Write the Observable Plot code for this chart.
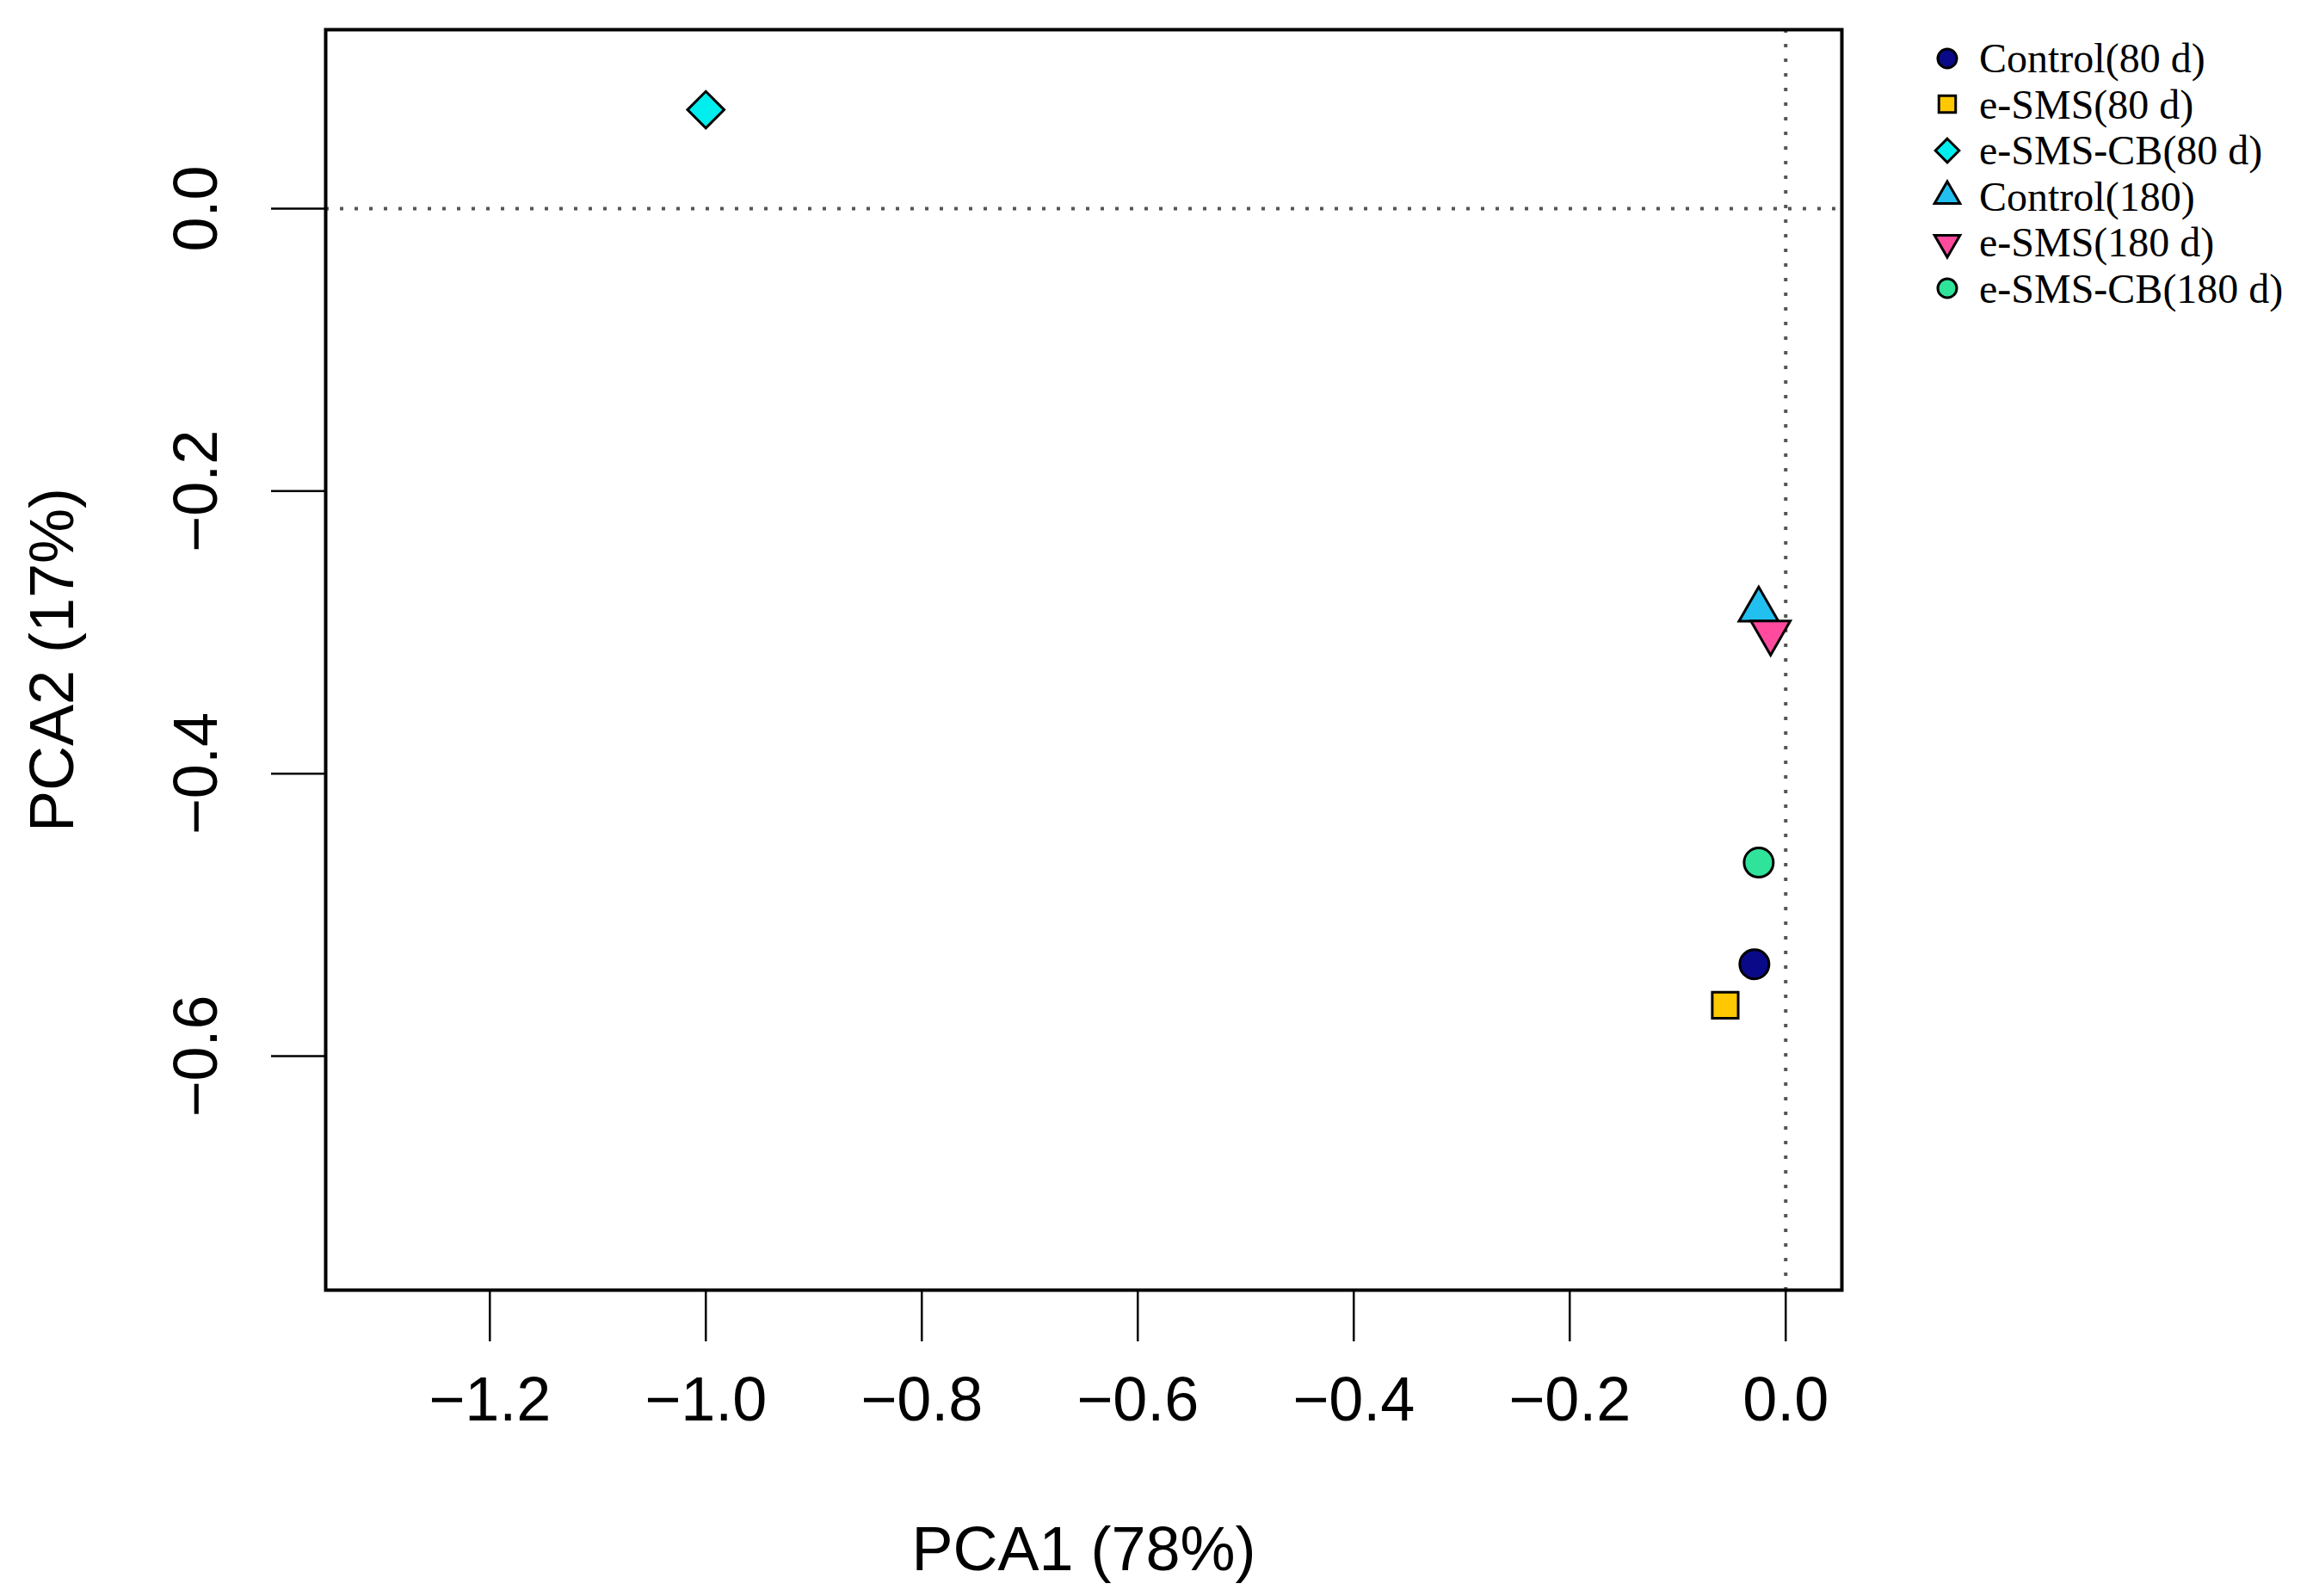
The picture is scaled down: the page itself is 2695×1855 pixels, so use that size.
<!DOCTYPE html>
<html><head><meta charset="utf-8">
<script src="https://cdn.jsdelivr.net/npm/d3@7"></script>
<script src="https://cdn.jsdelivr.net/npm/@observablehq/plot@0.6"></script>
<style>
body{margin:0;background:#fff;}
#wrap{position:relative;width:2695px;height:1855px;}
#legend{position:absolute;left:2243px;top:41px;font-family:"Liberation Serif","Times New Roman",serif;font-size:48px;color:#000;}
.row{display:flex;align-items:center;height:53.5px;}
.row svg{flex:none;margin-right:17px;}
</style></head><body><div id="wrap"><div id="chart"></div><div id="legend"></div></div>
<script>
// ---- data ----
const groups = ["Control(80 d)", "e-SMS(80 d)", "e-SMS-CB(80 d)", "Control(180)", "e-SMS(180 d)", "e-SMS-CB(180 d)"];
const pca1 = [-0.029, -0.056, -1.0, -0.025, -0.014, -0.025];
const pca2 = [-0.535, -0.564, 0.070, -0.284, -0.300, -0.463];
const colors = ["#0a0a88", "#ffc800", "#00eeee", "#22c0f0", "#ff4a9e", "#2fe39a"];
const shapes = ["circle", "square", "diamond", "triangleUp", "triangleDown", "circle"];
const xTicks = [-1.2, -1.0, -0.8, -0.6, -0.4, -0.2, 0.0];
const yTicks = [0.0, -0.2, -0.4, -0.6];

// ---- symbols (R pch 21-25 geometry) ----
const rad = (size) => Math.sqrt(size / Math.PI);
const symbolMap = {
  circle: {draw(c, s) { const r = rad(s); c.moveTo(r, 0); c.arc(0, 0, r, 0, 2 * Math.PI); c.closePath(); }},
  square: {draw(c, s) { const h = rad(s) * 0.886; c.rect(-h, -h, 2 * h, 2 * h); }},
  diamond: {draw(c, s) { const d = rad(s) * 1.2533; c.moveTo(0, -d); c.lineTo(d, 0); c.lineTo(0, d); c.lineTo(-d, 0); c.closePath(); }},
  triangleUp: {draw(c, s) { const r = rad(s); const a = 1.5551 * r, b = 0.7776 * r, w = 1.3468 * r; c.moveTo(0, -a); c.lineTo(w, b); c.lineTo(-w, b); c.closePath(); }},
  triangleDown: {draw(c, s) { const r = rad(s); const a = 1.5551 * r, b = 0.7776 * r, w = 1.3468 * r; c.moveTo(0, a); c.lineTo(w, -b); c.lineTo(-w, -b); c.closePath(); }}
};

const data = groups.map((g, i) => ({group: g, pca1: pca1[i], pca2: pca2[i]}));
const fmt = (d) => d.toFixed(1).replace("-", "\u2212");

const chart = Plot.plot({
  width: 2695, height: 1855,
  marginLeft: 378, marginRight: 555, marginTop: 34, marginBottom: 356,
  style: {fontFamily: "'Liberation Sans', Arial, sans-serif", background: "white", color: "black"},
  x: {domain: [-1.352, 0.052]},
  y: {domain: [-0.7657, 0.1267]},
  color: {domain: groups, range: colors},
  symbol: {domain: groups, range: shapes.map((s) => symbolMap[s])},
  marks: [
    Plot.ruleY([0], {stroke: "#555", strokeWidth: 4, strokeDasharray: "4,13"}),
    Plot.ruleX([0], {stroke: "#555", strokeWidth: 4, strokeDasharray: "4,13"}),
    Plot.axisX({ticks: xTicks, tickFormat: fmt, tickSize: 60, tickPadding: 40, fontSize: 72, strokeWidth: 2.5,
      label: "PCA1 (78%)", labelAnchor: "center", labelArrow: "none", labelOffset: 325}),
    Plot.axisY({ticks: yTicks, tickFormat: fmt, tickSize: 63, tickRotate: -90, tickPadding: 64, fontSize: 72, strokeWidth: 2.5,
      label: "PCA2 (17%)", labelAnchor: "center", labelArrow: "none", labelOffset: 345}),
    Plot.dot(data, {x: "pca1", y: "pca2", symbol: "group", fill: "group", r: 17, stroke: "black", strokeWidth: 3}),
    Plot.frame({strokeWidth: 4})
  ]
});
document.getElementById("chart").appendChild(chart);

// ---- legend ----
const legend = d3.select("#legend");
groups.forEach((g, i) => {
  const row = legend.append("div").attr("class", "row");
  const svg = row.append("svg").attr("width", 40).attr("height", 40).attr("viewBox", "-20 -20 40 40");
  const p = d3.path();
  symbolMap[shapes[i]].draw(p, 11 * 11 * Math.PI);
  svg.append("path").attr("d", p.toString()).attr("fill", colors[i]).attr("stroke", "black").attr("stroke-width", 3);
  row.append("span").text(g);
});
</script></body></html>
